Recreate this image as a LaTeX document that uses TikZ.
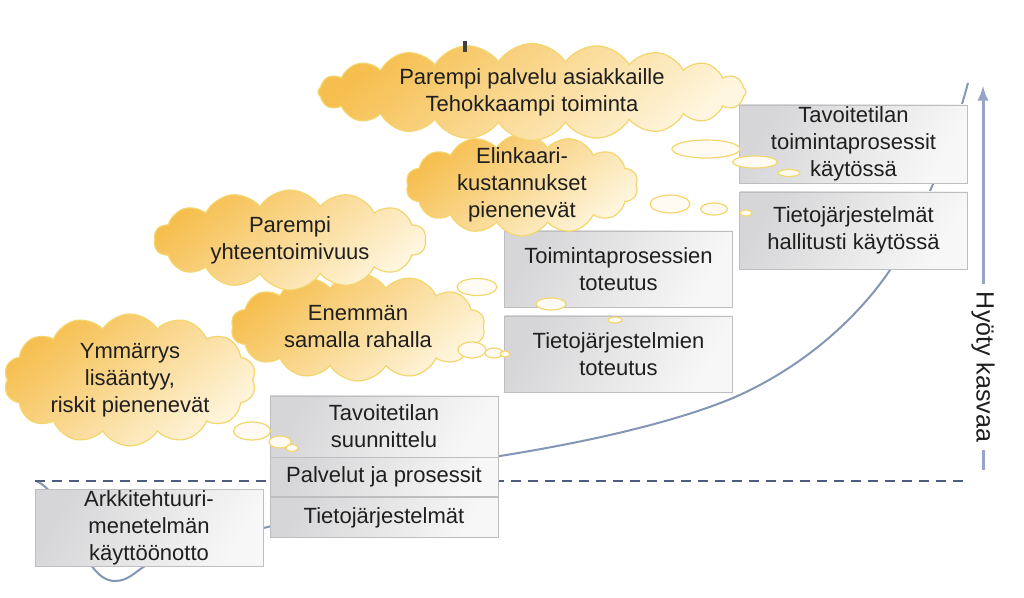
\documentclass[tikz,border=0pt]{standalone}
\usepackage{fontspec}
\setmainfont{Liberation Sans}
\usepackage{tikz}
\usetikzlibrary{shapes,arrows,positioning,calc}
\definecolor{cloudorange}{RGB}{246,190,78}
\definecolor{cloudcream}{RGB}{254,246,222}
\definecolor{cloudline}{RGB}{244,214,110}
\definecolor{boxgray}{RGB}{214,214,216}
\definecolor{boxline}{RGB}{190,190,192}
\definecolor{curveblue}{RGB}{132,150,182}
\definecolor{axisblue}{RGB}{150,164,200}
\definecolor{dashblue}{RGB}{78,92,128}

\begin{document}
\begin{tikzpicture}[
        x=0.5pt, y=-0.5pt,
        every node/.style={font=\fontsize{11}{13.5}\selectfont, text=black!88},
        stage/.style={rectangle, draw=boxline, top color=boxgray, bottom color=white!97!black, shading angle=60, align=center, inner sep=0pt, minimum width=114pt},
        benefit/.style={cloud, cloud puffs=14, cloud puff arc=115, cloud ignores aspect, draw=cloudline, line width=0.6pt, top color=cloudorange, middle color=cloudcream!55!cloudorange, bottom color=cloudcream, shading angle=40, align=center, inner xsep=0pt, inner ysep=-7pt},
        bubble/.style={ellipse, draw=cloudline, line width=0.6pt, fill=cloudcream!40!white, inner sep=0pt}
    ]
        \fill[white] (0,0) rectangle (1024,598);
        \useasboundingbox (0,0) rectangle (1024,598);

        % growth curve and baseline
        \draw[curveblue, line width=1pt] (36,481) .. controls (70,495) and (80,581) .. (115,581)
            .. controls (128,581) and (135,572) .. (145,566)
            .. controls (190,545) and (230,535) .. (268,527)
            .. controls (350,500) and (420,470) .. (500,456)
            .. controls (600,440) and (680,420) .. (733,398)
            .. controls (820,360) and (870,300) .. (890,270)
            .. controls (920,220) and (950,150) .. (968,83);
        \coordinate (baseL) at (35,481);
        \coordinate (baseR) at (968,481);
        \draw[dashblue, line width=0.8pt, dash pattern=on 5pt off 3.5pt] (baseL) -- (baseR);

        % stages
        \node[stage, minimum height=38.5pt] (adopt) at (149,528) {Arkkitehtuuri-\\menetelmän\\käyttöönotto};
        \node[stage, minimum height=30.5pt] (plan) at (384,426.5) {Tavoitetilan\\suunnittelu};
        \node[stage, minimum height=19.5pt, below=0pt of plan] (services) {Palvelut ja prosessit};
        \node[stage, minimum height=20pt, below=0pt of services] (systems) {Tietojärjestelmät};
        \node[stage, minimum height=38pt] (procimpl) at (618.5,269) {Toimintaprosessien\\toteutus};
        \node[stage, minimum height=38pt] (sysimpl) at (618.5,354) {Tietojärjestelmien\\toteutus};
        \node[stage, minimum height=39pt] (procuse) at (853.5,144) {Tavoitetilan\\toimintaprosessit\\käytössä};
        \node[stage, minimum height=38.5pt] (sysuse) at (853.5,230.5) {Tietojärjestelmät\\hallitusti käytössä};

        % benefits
        \node[benefit, minimum width=126pt, minimum height=66pt] (insight) at (130,380) {Ymmärrys\\lisääntyy,\\riskit pienenevät};
        \node[benefit, minimum width=127pt, minimum height=54pt] (money) at (358,327) {Enemmän\\samalla rahalla};
        \node[benefit, minimum width=136pt, minimum height=50pt] (interop) at (290,240) {Parempi\\yhteentoimivuus};
        \node[benefit, minimum width=116pt, minimum height=51pt] (lifecycle) at (522,185) {Elinkaari-\\kustannukset\\pienenevät};
        \node[benefit, cloud puffs=20, minimum width=214pt, minimum height=48.5pt] (service) at (532,92) {Parempi palvelu asiakkaille\\Tehokkaampi toiminta};

        % thought bubbles
        \node[bubble, minimum width=18.5pt, minimum height=9pt] (ins1) at (252,431) {};
        \node[bubble, minimum width=11pt, minimum height=6pt] (ins2) at (280,442) {};
        \node[bubble, minimum width=6pt, minimum height=3.5pt] (ins3) at (292,448) {};
        \node[bubble, minimum width=14pt, minimum height=8pt] (mon1) at (472,350) {};
        \node[bubble, minimum width=9pt, minimum height=5pt] (mon2) at (494,353) {};
        \node[bubble, minimum width=5pt, minimum height=3pt] (mon3) at (505,354) {};
        \node[bubble, minimum width=20pt, minimum height=8.5pt] (int1) at (477,287) {};
        \node[bubble, minimum width=15pt, minimum height=6pt] (int2) at (551,304) {};
        \node[bubble, minimum width=7pt, minimum height=3pt] (int3) at (615,320) {};
        \node[bubble, minimum width=20pt, minimum height=9pt] (life1) at (670,204) {};
        \node[bubble, minimum width=13.5pt, minimum height=6pt] (life2) at (714,209) {};
        \node[bubble, minimum width=6pt, minimum height=3pt] (life3) at (746,213) {};
        \node[bubble, minimum width=34pt, minimum height=9pt] (ser1) at (706,149) {};
        \node[bubble, minimum width=22.5pt, minimum height=6pt] (ser2) at (755,162) {};
        \node[bubble, minimum width=11pt, minimum height=3.5pt] (ser3) at (789,173) {};

        \fill[black!75] (463,41) rectangle (467,52);

        % benefit axis
        \coordinate (axisfoot) at (983,470);
        \coordinate (axishead) at (983,86);
        \draw[axisblue, line width=1.5pt, -latex] (axisfoot) -- (axishead);
        \node[rotate=-90, fill=white, inner xsep=4pt, font=\fontsize{12.5}{15}\selectfont] (gain) at (983,367) {Hyöty kasvaa};
    \end{tikzpicture}
\end{document}
